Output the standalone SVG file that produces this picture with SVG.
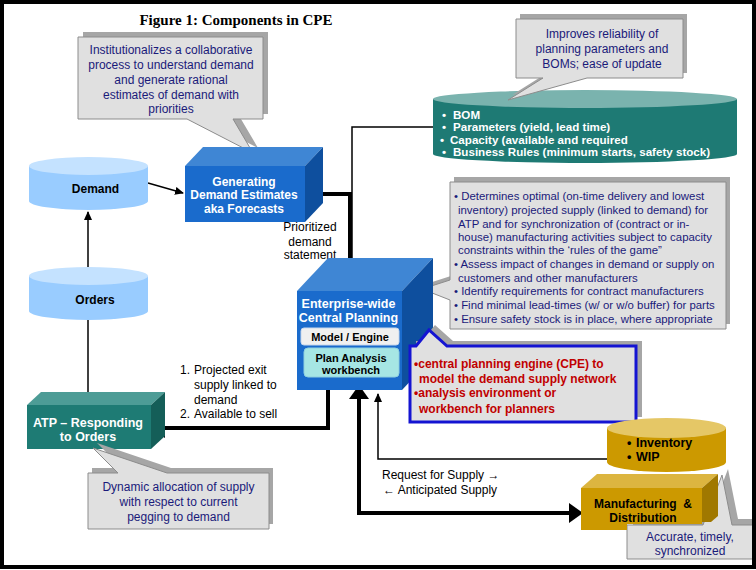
<svg xmlns="http://www.w3.org/2000/svg" width="756" height="570" viewBox="0 0 756 570">
<defs>
<style>
text{font-family:"Liberation Sans",Arial,sans-serif}
.t{font-size:12px;fill:#000}
.b{font-weight:bold}
.w{fill:#fff;font-weight:bold;font-size:12px}
.nv{fill:#1a1a7a;font-size:12px}
.nvs{fill:#1a1a7a;font-size:11.4px}
.red{fill:#c00000;font-weight:bold;font-size:12px}
.co{fill:#e0e0e0;stroke:#8c8c8c;stroke-width:1}
.sh{fill:#a6a6a6}
.thin{fill:none;stroke:#000;stroke-width:1.5}
.thick{fill:none;stroke:#000;stroke-width:4}
.bf{fill:#1a6bcc}.bt{fill:#3f86d4}.bs{fill:#0e4f9e}
.tf{fill:#1e7b74}.tt{fill:#4d9c96}.ts{fill:#145e58}
.gf{fill:#cc9900}.gt{fill:#dcb540}.gs{fill:#a07800}
</style>
<marker id="ah" viewBox="0 0 14 20" refX="11" refY="10" markerWidth="14" markerHeight="20" markerUnits="userSpaceOnUse" orient="auto-start-reverse"><path d="M0,0 L14,10 L0,20 Z" fill="#000"/></marker>
<marker id="as" viewBox="0 0 9 8" refX="8" refY="4" markerWidth="9" markerHeight="8" markerUnits="userSpaceOnUse" orient="auto"><path d="M0,0 L9,4 L0,8 Z" fill="#000"/></marker>
</defs>
<rect x="0" y="0" width="756" height="570" fill="#fff"/>
<text x="236" y="25" text-anchor="middle" style="font-family:'Liberation Serif','Times New Roman',serif;font-weight:bold;font-size:15px">Figure 1: Components in CPE</text>

<g id="connectors">
<line class="thin" x1="148" y1="183" x2="183" y2="193" marker-end="url(#as)"/>
<line class="thin" x1="88" y1="268" x2="88" y2="212" marker-end="url(#as)"/>
<line class="thin" x1="88" y1="320" x2="88" y2="404" marker-end="url(#as)"/>
<path class="thin" d="M433,127 H352 V282"/>
<path class="thick" d="M305,194 H350 V290" marker-end="url(#ah)"/>
<path class="thick" d="M328,390 V428 H154" marker-end="url(#ah)"/>
<path class="thick" d="M359,388 V513 H580" marker-start="url(#ah)" marker-end="url(#ah)"/>
<path class="thin" d="M607,459 H378 V394" marker-end="url(#as)"/>
</g>

<g id="callout-demand">
<path class="sh" transform="translate(5,-5)" d="M78,37 H263 V119 H233 L253,153 L187,119 H78 Z"/>
<path class="co" d="M78,37 H263 V119 H233 L253,153 L187,119 H78 Z"/>
<g class="nv" text-anchor="middle">
<text x="171" y="54">Institutionalizes a collaborative</text>
<text x="171" y="69">process to understand demand</text>
<text x="171" y="84">and generate rational</text>
<text x="171" y="99">estimates of demand with</text>
<text x="171" y="113">priorities</text>
</g>
</g>

<g id="bom">
<path d="M433,99 V154 A152,9 0 0 0 737,154 V99 Z" fill="#1e7a74"/>
<ellipse cx="585" cy="99" rx="152" ry="9" fill="#7ab3ae"/>
<g class="w" style="font-size:11.6px">
<text x="442" y="119">•</text><text x="453" y="119">BOM</text>
<text x="442" y="131.3">•</text><text x="453" y="131.3">Parameters (yield, lead time)</text>
<text x="440" y="143.6">•</text><text x="450" y="143.6">Capacity (available and required</text>
<text x="442" y="156">•</text><text x="453" y="156">Business Rules (minimum starts, safety stock)</text>
</g>
</g>

<g id="callout-bom">
<path class="sh" transform="translate(4,-5)" d="M516,19 H683 V78 H587 L508,100 L543,78 H516 Z"/>
<path class="co" d="M516,19 H683 V78 H587 L508,100 L543,78 H516 Z"/>
<g class="nv" text-anchor="middle">
<text x="602" y="38">Improves reliability of</text>
<text x="602" y="53">planning parameters and</text>
<text x="602" y="68">BOMs; ease of update</text>
</g>
</g>

<g id="demand">
<path d="M29,166 V201 A59.5,9 0 0 0 148,201 V166 Z" fill="#99ccff"/>
<ellipse cx="88.5" cy="166" rx="59.5" ry="9" fill="#c4e2ff"/>
<text class="t b" x="95.5" y="192.5" text-anchor="middle">Demand</text>
</g>

<g id="orders">
<path d="M29,276 V311 A59.5,9 0 0 0 148,311 V276 Z" fill="#99ccff"/>
<ellipse cx="88.5" cy="276" rx="59.5" ry="9" fill="#c4e2ff"/>
<text class="t b" x="95" y="303.5" text-anchor="middle">Orders</text>
</g>

<g id="generating">
<polygon class="bt" points="185,166 203,147 323,147 305,166"/>
<polygon class="bs" points="305,166 323,147 323,203 305,222"/>
<rect class="bf" x="185" y="166" width="120" height="56"/>
<g class="w" text-anchor="middle">
<text x="244" y="185.5">Generating</text>
<text x="244" y="198.5">Demand Estimates</text>
<text x="244" y="212.5">aka Forecasts</text>
</g>
</g>

<g id="prioritized-label" class="t" text-anchor="middle">
<text x="310" y="231">Prioritized</text>
<text x="310" y="246">demand</text>
<text x="310" y="259">statement</text>
</g>

<g id="callout-cpe">
<path class="sh" transform="translate(4,-5)" d="M450,182 H726 V329 H450 V300 L422,289 L450,280 Z"/>
<path class="co" d="M450,182 H726 V329 H450 V300 L422,289 L450,280 Z"/>
<g class="nvs">
<text x="454" y="200">• Determines optimal (on-time delivery and lowest</text>
<text x="458" y="214">inventory) projected supply (linked to demand) for</text>
<text x="458" y="228">ATP and for synchronization of (contract or in-</text>
<text x="458" y="241">house) manufacturing activities subject to capacity</text>
<text x="458" y="254">constraints within the ‘rules of the game”</text>
<text x="454" y="268">• Assess impact of changes in demand or supply on</text>
<text x="458" y="282">customers and other manufacturers</text>
<text x="454" y="295">• Identify requirements for contract manufacturers</text>
<text x="454" y="309">• Find minimal lead-times (w/ or w/o buffer) for parts</text>
<text x="454" y="323">• Ensure safety stock is in place, where appropriate</text>
</g>
</g>

<g id="central-planning">
<polygon class="bt" points="297,291 328,258 433,258 402,291"/>
<polygon class="bs" points="402,291 433,258 433,357 402,390"/>
<rect class="bf" x="297" y="291" width="105" height="99"/>
<g class="w" text-anchor="middle" style="font-size:12.5px">
<text x="348.5" y="307.5">Enterprise-wide</text>
<text x="348.5" y="321.5">Central Planning</text>
</g>
<rect x="301" y="328" width="98" height="17" rx="3" fill="#f0f0f0" stroke="#c8d8ec" stroke-width="1"/>
<text class="b" x="350" y="341" text-anchor="middle" style="font-size:11px">Model / Engine</text>
<rect x="304" y="348" width="95" height="29" rx="4" fill="#a6e6e4" stroke="#8fd0e0" stroke-width="1"/>
<g class="b" text-anchor="middle" style="font-size:11px">
<text x="351" y="362">Plan Analysis</text>
<text x="351" y="374">workbench</text>
</g>
</g>

<g id="callout-cpe-components">
<path class="sh" transform="translate(6,-5)" d="M410,346 H416 L429,330 L447,346 H636 V422 H410 Z"/>
<path d="M410,346 H416 L429,330 L447,346 H636 V422 H410 Z" fill="#e0e0e0" stroke="#1414d2" stroke-width="3"/>
<g class="red">
<text x="414" y="367.5">•central planning engine (CPE) to</text>
<text x="419" y="382.5">model the demand supply network</text>
<text x="414" y="396.5">•analysis environment or</text>
<text x="419" y="412.5">workbench for planners</text>
</g>
</g>

<g id="exit-label" class="t">
<text x="180" y="374">1.</text><text x="194" y="374">Projected exit</text>
<text x="194" y="389">supply linked to</text>
<text x="194" y="404">demand</text>
<text x="180" y="418">2.</text><text x="194" y="418">Available to sell</text>
</g>

<g id="atp">
<polygon class="tt" points="27,405 41,392 165,392 151,405"/>
<polygon class="ts" points="151,405 165,392 165,436 151,449"/>
<rect class="tf" x="27" y="405" width="124" height="44"/>
<g class="w" text-anchor="middle" style="font-size:12.5px">
<text x="88" y="426.5">ATP – Responding</text>
<text x="88" y="440.5">to Orders</text>
</g>
</g>

<g id="callout-atp">
<path class="sh" transform="translate(4,-5)" d="M88,473 H118 L93,448 L167,473 H269 V529 H88 Z"/>
<path class="co" d="M88,473 H118 L93,448 L167,473 H269 V529 H88 Z"/>
<g class="nv" text-anchor="middle">
<text x="178.5" y="491">Dynamic allocation of supply</text>
<text x="178.5" y="506">with respect to current</text>
<text x="178.5" y="521">pegging to demand</text>
</g>
</g>

<g id="supply-label" class="t">
<text x="382" y="479">Request for Supply →</text>
<text x="383" y="494">← Anticipated Supply</text>
</g>

<g id="inventory">
<path d="M607,428 V462 A59.5,10 0 0 0 726,462 V428 Z" fill="#cc9900"/>
<ellipse cx="666.5" cy="428" rx="59.5" ry="10" fill="#e5c766"/>
<g class="t b" style="font-size:12.5px">
<text x="627" y="447">•</text><text x="636" y="447">Inventory</text>
<text x="627" y="461">•</text><text x="636" y="461">WIP</text>
</g>
</g>

<g id="callout-mfg">
<path class="sh" transform="translate(6,-6)" d="M627,525 H703 L722,475 L732,525 H760 V559 H627 Z"/>
<path class="co" d="M627,525 H703 L722,475 L732,525 H760 V559 H627 Z"/>
<g class="nv" text-anchor="middle">
<text x="690" y="541">Accurate, timely,</text>
<text x="690" y="555">synchronized</text>
</g>
</g>

<g id="manufacturing">
<polygon class="gt" points="581,488 597,474 718,474 702,488"/>
<polygon class="gs" points="702,488 718,474 718,516 711,522 702,522"/>
<polygon class="gf" points="581,488 702,488 702,524 627,524 627,530 581,530"/>
<g class="t b" text-anchor="middle">
<text x="643" y="507.5">Manufacturing&#160; &amp;</text>
<text x="643" y="521.5">Distribution</text>
</g>
</g>

<rect x="2" y="2" width="752" height="565" fill="none" stroke="#000" stroke-width="4"/>
</svg>
